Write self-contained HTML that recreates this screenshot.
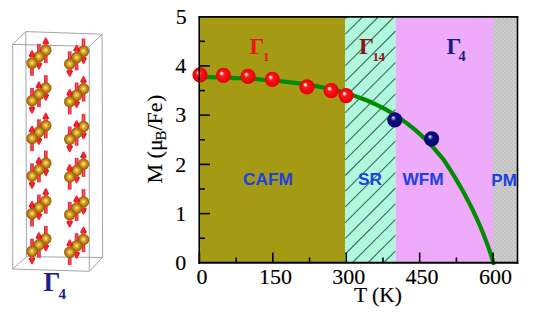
<!DOCTYPE html>
<html><head><meta charset="utf-8">
<style>
html,body{margin:0;padding:0;background:#fff;width:540px;height:313px;overflow:hidden}
svg{display:block}
text{font-family:"Liberation Serif",serif}
.sans{font-family:"Liberation Sans",sans-serif;font-weight:bold}
</style></head><body>
<svg width="540" height="313" viewBox="0 0 540 313">
<defs>
<radialGradient id="gold" cx="0.5" cy="0.5" r="0.52" fx="0.5" fy="0.47">
<stop offset="0" stop-color="#fff6b8"/>
<stop offset="0.2" stop-color="#f2c448"/>
<stop offset="0.55" stop-color="#c88c18"/>
<stop offset="1" stop-color="#865608"/>
</radialGradient>
<linearGradient id="shaft" x1="0" y1="0" x2="1" y2="0">
<stop offset="0" stop-color="#d81828"/>
<stop offset="0.5" stop-color="#f85464"/>
<stop offset="1" stop-color="#d01828"/>
</linearGradient>
<linearGradient id="head" x1="0" y1="0" x2="1" y2="0">
<stop offset="0" stop-color="#d00818"/>
<stop offset="0.5" stop-color="#ff2838"/>
<stop offset="1" stop-color="#c80818"/>
</linearGradient>
<radialGradient id="red" cx="0.5" cy="0.5" r="0.5" fx="0.36" fy="0.34">
<stop offset="0" stop-color="#ffffff"/>
<stop offset="0.13" stop-color="#ffc8c8"/>
<stop offset="0.32" stop-color="#ff1818"/>
<stop offset="1" stop-color="#e20000"/>
</radialGradient>
<radialGradient id="blue" cx="0.5" cy="0.5" r="0.5" fx="0.38" fy="0.34">
<stop offset="0" stop-color="#ffffff"/>
<stop offset="0.14" stop-color="#9090d0"/>
<stop offset="0.36" stop-color="#0c0c86"/>
<stop offset="1" stop-color="#080868"/>
</radialGradient>
<filter id="soft" x="-5%" y="-5%" width="110%" height="110%"><feGaussianBlur stdDeviation="0.3"/></filter>
<pattern id="chk" x="0" y="0" width="4" height="4" patternUnits="userSpaceOnUse"><rect width="4" height="4" fill="#cccccc"/><rect width="2" height="2" fill="#c2c2c2"/><rect x="2" y="2" width="2" height="2" fill="#c2c2c2"/></pattern>
</defs>

<!-- crystal box -->
<g stroke="#a4a4a4" stroke-width="1" fill="none">
<polyline points="12.7,269 12.7,44.4 89.3,46.4 89.3,271.3 12.7,269"/>
<polyline points="26.5,256.7 25.8,31.6 102.1,34.2 102.6,257.5 26.5,256.7"/>
<line x1="12.7" y1="44.4" x2="25.8" y2="31.6"/>
<line x1="89.3" y1="46.4" x2="102.1" y2="34.2"/>
<line x1="12.7" y1="269" x2="26.5" y2="256.7"/>
<line x1="89.3" y1="271.3" x2="102.6" y2="257.5"/>
</g>
<g filter="url(#soft)"><rect x="44.00" y="44.55" width="3.60" height="18.50" fill="url(#shaft)"/><path d="M45.20,37.55 L46.40,37.55 L49.20,43.15 L47.60,44.55 L44.00,44.55 L42.40,43.15 L45.20,37.55 Z" fill="url(#head)"/>
<circle cx="45.80" cy="50.30" r="5.70" fill="url(#gold)"/>
<rect x="37.10" y="43.95" width="3.60" height="18.50" fill="url(#shaft)"/><path d="M38.30,69.45 L39.50,69.45 L42.30,63.85 L40.70,62.45 L37.10,62.45 L35.50,63.85 L38.30,69.45 Z" fill="url(#head)"/>
<circle cx="38.90" cy="56.70" r="5.70" fill="url(#gold)"/>
<rect x="30.20" y="57.35" width="3.60" height="18.50" fill="url(#shaft)"/><path d="M31.40,50.35 L32.60,50.35 L35.40,55.95 L33.80,57.35 L30.20,57.35 L28.60,55.95 L31.40,50.35 Z" fill="url(#head)"/>
<circle cx="32.00" cy="63.10" r="5.70" fill="url(#gold)"/>
<rect x="81.70" y="38.45" width="3.60" height="18.50" fill="url(#shaft)"/><path d="M82.90,63.95 L84.10,63.95 L86.90,58.35 L85.30,56.95 L81.70,56.95 L80.10,58.35 L82.90,63.95 Z" fill="url(#head)"/>
<circle cx="83.50" cy="51.20" r="5.70" fill="url(#gold)"/>
<rect x="74.80" y="51.85" width="3.60" height="18.50" fill="url(#shaft)"/><path d="M76.00,44.85 L77.20,44.85 L80.00,50.45 L78.40,51.85 L74.80,51.85 L73.20,50.45 L76.00,44.85 Z" fill="url(#head)"/>
<circle cx="76.60" cy="57.60" r="5.70" fill="url(#gold)"/>
<rect x="67.90" y="51.25" width="3.60" height="18.50" fill="url(#shaft)"/><path d="M69.10,76.75 L70.30,76.75 L73.10,71.15 L71.50,69.75 L67.90,69.75 L66.30,71.15 L69.10,76.75 Z" fill="url(#head)"/>
<circle cx="69.70" cy="64.00" r="5.70" fill="url(#gold)"/>
<rect x="44.00" y="75.21" width="3.60" height="18.50" fill="url(#shaft)"/><path d="M45.20,100.71 L46.40,100.71 L49.20,95.11 L47.60,93.71 L44.00,93.71 L42.40,95.11 L45.20,100.71 Z" fill="url(#head)"/>
<circle cx="45.80" cy="87.96" r="5.70" fill="url(#gold)"/>
<rect x="37.10" y="88.61" width="3.60" height="18.50" fill="url(#shaft)"/><path d="M38.30,81.61 L39.50,81.61 L42.30,87.21 L40.70,88.61 L37.10,88.61 L35.50,87.21 L38.30,81.61 Z" fill="url(#head)"/>
<circle cx="38.90" cy="94.36" r="5.70" fill="url(#gold)"/>
<rect x="30.20" y="88.01" width="3.60" height="18.50" fill="url(#shaft)"/><path d="M31.40,113.51 L32.60,113.51 L35.40,107.91 L33.80,106.51 L30.20,106.51 L28.60,107.91 L31.40,113.51 Z" fill="url(#head)"/>
<circle cx="32.00" cy="100.76" r="5.70" fill="url(#gold)"/>
<rect x="81.70" y="83.11" width="3.60" height="18.50" fill="url(#shaft)"/><path d="M82.90,76.11 L84.10,76.11 L86.90,81.71 L85.30,83.11 L81.70,83.11 L80.10,81.71 L82.90,76.11 Z" fill="url(#head)"/>
<circle cx="83.50" cy="88.86" r="5.70" fill="url(#gold)"/>
<rect x="74.80" y="82.51" width="3.60" height="18.50" fill="url(#shaft)"/><path d="M76.00,108.01 L77.20,108.01 L80.00,102.41 L78.40,101.01 L74.80,101.01 L73.20,102.41 L76.00,108.01 Z" fill="url(#head)"/>
<circle cx="76.60" cy="95.26" r="5.70" fill="url(#gold)"/>
<rect x="67.90" y="95.91" width="3.60" height="18.50" fill="url(#shaft)"/><path d="M69.10,88.91 L70.30,88.91 L73.10,94.51 L71.50,95.91 L67.90,95.91 L66.30,94.51 L69.10,88.91 Z" fill="url(#head)"/>
<circle cx="69.70" cy="101.66" r="5.70" fill="url(#gold)"/>
<rect x="44.00" y="119.87" width="3.60" height="18.50" fill="url(#shaft)"/><path d="M45.20,112.87 L46.40,112.87 L49.20,118.47 L47.60,119.87 L44.00,119.87 L42.40,118.47 L45.20,112.87 Z" fill="url(#head)"/>
<circle cx="45.80" cy="125.62" r="5.70" fill="url(#gold)"/>
<rect x="37.10" y="119.27" width="3.60" height="18.50" fill="url(#shaft)"/><path d="M38.30,144.77 L39.50,144.77 L42.30,139.17 L40.70,137.77 L37.10,137.77 L35.50,139.17 L38.30,144.77 Z" fill="url(#head)"/>
<circle cx="38.90" cy="132.02" r="5.70" fill="url(#gold)"/>
<rect x="30.20" y="132.67" width="3.60" height="18.50" fill="url(#shaft)"/><path d="M31.40,125.67 L32.60,125.67 L35.40,131.27 L33.80,132.67 L30.20,132.67 L28.60,131.27 L31.40,125.67 Z" fill="url(#head)"/>
<circle cx="32.00" cy="138.42" r="5.70" fill="url(#gold)"/>
<rect x="81.70" y="113.77" width="3.60" height="18.50" fill="url(#shaft)"/><path d="M82.90,139.27 L84.10,139.27 L86.90,133.67 L85.30,132.27 L81.70,132.27 L80.10,133.67 L82.90,139.27 Z" fill="url(#head)"/>
<circle cx="83.50" cy="126.52" r="5.70" fill="url(#gold)"/>
<rect x="74.80" y="127.17" width="3.60" height="18.50" fill="url(#shaft)"/><path d="M76.00,120.17 L77.20,120.17 L80.00,125.77 L78.40,127.17 L74.80,127.17 L73.20,125.77 L76.00,120.17 Z" fill="url(#head)"/>
<circle cx="76.60" cy="132.92" r="5.70" fill="url(#gold)"/>
<rect x="67.90" y="126.57" width="3.60" height="18.50" fill="url(#shaft)"/><path d="M69.10,152.07 L70.30,152.07 L73.10,146.47 L71.50,145.07 L67.90,145.07 L66.30,146.47 L69.10,152.07 Z" fill="url(#head)"/>
<circle cx="69.70" cy="139.32" r="5.70" fill="url(#gold)"/>
<rect x="44.00" y="150.53" width="3.60" height="18.50" fill="url(#shaft)"/><path d="M45.20,176.03 L46.40,176.03 L49.20,170.43 L47.60,169.03 L44.00,169.03 L42.40,170.43 L45.20,176.03 Z" fill="url(#head)"/>
<circle cx="45.80" cy="163.28" r="5.70" fill="url(#gold)"/>
<rect x="37.10" y="163.93" width="3.60" height="18.50" fill="url(#shaft)"/><path d="M38.30,156.93 L39.50,156.93 L42.30,162.53 L40.70,163.93 L37.10,163.93 L35.50,162.53 L38.30,156.93 Z" fill="url(#head)"/>
<circle cx="38.90" cy="169.68" r="5.70" fill="url(#gold)"/>
<rect x="30.20" y="163.33" width="3.60" height="18.50" fill="url(#shaft)"/><path d="M31.40,188.83 L32.60,188.83 L35.40,183.23 L33.80,181.83 L30.20,181.83 L28.60,183.23 L31.40,188.83 Z" fill="url(#head)"/>
<circle cx="32.00" cy="176.08" r="5.70" fill="url(#gold)"/>
<rect x="81.70" y="158.43" width="3.60" height="18.50" fill="url(#shaft)"/><path d="M82.90,151.43 L84.10,151.43 L86.90,157.03 L85.30,158.43 L81.70,158.43 L80.10,157.03 L82.90,151.43 Z" fill="url(#head)"/>
<circle cx="83.50" cy="164.18" r="5.70" fill="url(#gold)"/>
<rect x="74.80" y="157.83" width="3.60" height="18.50" fill="url(#shaft)"/><path d="M76.00,183.33 L77.20,183.33 L80.00,177.73 L78.40,176.33 L74.80,176.33 L73.20,177.73 L76.00,183.33 Z" fill="url(#head)"/>
<circle cx="76.60" cy="170.58" r="5.70" fill="url(#gold)"/>
<rect x="67.90" y="171.23" width="3.60" height="18.50" fill="url(#shaft)"/><path d="M69.10,164.23 L70.30,164.23 L73.10,169.83 L71.50,171.23 L67.90,171.23 L66.30,169.83 L69.10,164.23 Z" fill="url(#head)"/>
<circle cx="69.70" cy="176.98" r="5.70" fill="url(#gold)"/>
<rect x="44.00" y="195.19" width="3.60" height="18.50" fill="url(#shaft)"/><path d="M45.20,188.19 L46.40,188.19 L49.20,193.79 L47.60,195.19 L44.00,195.19 L42.40,193.79 L45.20,188.19 Z" fill="url(#head)"/>
<circle cx="45.80" cy="200.94" r="5.70" fill="url(#gold)"/>
<rect x="37.10" y="194.59" width="3.60" height="18.50" fill="url(#shaft)"/><path d="M38.30,220.09 L39.50,220.09 L42.30,214.49 L40.70,213.09 L37.10,213.09 L35.50,214.49 L38.30,220.09 Z" fill="url(#head)"/>
<circle cx="38.90" cy="207.34" r="5.70" fill="url(#gold)"/>
<rect x="30.20" y="207.99" width="3.60" height="18.50" fill="url(#shaft)"/><path d="M31.40,200.99 L32.60,200.99 L35.40,206.59 L33.80,207.99 L30.20,207.99 L28.60,206.59 L31.40,200.99 Z" fill="url(#head)"/>
<circle cx="32.00" cy="213.74" r="5.70" fill="url(#gold)"/>
<rect x="81.70" y="189.09" width="3.60" height="18.50" fill="url(#shaft)"/><path d="M82.90,214.59 L84.10,214.59 L86.90,208.99 L85.30,207.59 L81.70,207.59 L80.10,208.99 L82.90,214.59 Z" fill="url(#head)"/>
<circle cx="83.50" cy="201.84" r="5.70" fill="url(#gold)"/>
<rect x="74.80" y="202.49" width="3.60" height="18.50" fill="url(#shaft)"/><path d="M76.00,195.49 L77.20,195.49 L80.00,201.09 L78.40,202.49 L74.80,202.49 L73.20,201.09 L76.00,195.49 Z" fill="url(#head)"/>
<circle cx="76.60" cy="208.24" r="5.70" fill="url(#gold)"/>
<rect x="67.90" y="201.89" width="3.60" height="18.50" fill="url(#shaft)"/><path d="M69.10,227.39 L70.30,227.39 L73.10,221.79 L71.50,220.39 L67.90,220.39 L66.30,221.79 L69.10,227.39 Z" fill="url(#head)"/>
<circle cx="69.70" cy="214.64" r="5.70" fill="url(#gold)"/>
<rect x="44.00" y="225.85" width="3.60" height="18.50" fill="url(#shaft)"/><path d="M45.20,251.35 L46.40,251.35 L49.20,245.75 L47.60,244.35 L44.00,244.35 L42.40,245.75 L45.20,251.35 Z" fill="url(#head)"/>
<circle cx="45.80" cy="238.60" r="5.70" fill="url(#gold)"/>
<rect x="37.10" y="239.25" width="3.60" height="18.50" fill="url(#shaft)"/><path d="M38.30,232.25 L39.50,232.25 L42.30,237.85 L40.70,239.25 L37.10,239.25 L35.50,237.85 L38.30,232.25 Z" fill="url(#head)"/>
<circle cx="38.90" cy="245.00" r="5.70" fill="url(#gold)"/>
<rect x="30.20" y="238.65" width="3.60" height="18.50" fill="url(#shaft)"/><path d="M31.40,264.15 L32.60,264.15 L35.40,258.55 L33.80,257.15 L30.20,257.15 L28.60,258.55 L31.40,264.15 Z" fill="url(#head)"/>
<circle cx="32.00" cy="251.40" r="5.70" fill="url(#gold)"/>
<rect x="81.70" y="233.75" width="3.60" height="18.50" fill="url(#shaft)"/><path d="M82.90,226.75 L84.10,226.75 L86.90,232.35 L85.30,233.75 L81.70,233.75 L80.10,232.35 L82.90,226.75 Z" fill="url(#head)"/>
<circle cx="83.50" cy="239.50" r="5.70" fill="url(#gold)"/>
<rect x="74.80" y="233.15" width="3.60" height="18.50" fill="url(#shaft)"/><path d="M76.00,258.65 L77.20,258.65 L80.00,253.05 L78.40,251.65 L74.80,251.65 L73.20,253.05 L76.00,258.65 Z" fill="url(#head)"/>
<circle cx="76.60" cy="245.90" r="5.70" fill="url(#gold)"/>
<rect x="67.90" y="246.55" width="3.60" height="18.50" fill="url(#shaft)"/><path d="M69.10,239.55 L70.30,239.55 L73.10,245.15 L71.50,246.55 L67.90,246.55 L66.30,245.15 L69.10,239.55 Z" fill="url(#head)"/>
<circle cx="69.70" cy="252.30" r="5.70" fill="url(#gold)"/></g>
<text x="43.5" y="291" font-size="26.5" font-weight="bold" fill="#1c2088">Γ</text>
<text x="58.5" y="299" font-size="15" font-weight="bold" fill="#1c2088">4</text>

<!-- chart regions -->
<rect x="199" y="17" width="146.3" height="246" fill="#a49a14"/>
<rect x="345.3" y="17" width="50.3" height="246" fill="#aff8de"/>
<g stroke="#447062" stroke-width="1.15"><line x1="345.30" y1="18.50" x2="346.80" y2="17.00"/>
<line x1="345.30" y1="34.20" x2="362.50" y2="17.00"/>
<line x1="345.30" y1="49.90" x2="378.20" y2="17.00"/>
<line x1="345.30" y1="65.60" x2="393.90" y2="17.00"/>
<line x1="345.30" y1="81.30" x2="395.60" y2="31.00"/>
<line x1="345.30" y1="97.00" x2="395.60" y2="46.70"/>
<line x1="345.30" y1="112.70" x2="395.60" y2="62.40"/>
<line x1="345.30" y1="128.40" x2="395.60" y2="78.10"/>
<line x1="345.30" y1="144.10" x2="395.60" y2="93.80"/>
<line x1="345.30" y1="159.80" x2="395.60" y2="109.50"/>
<line x1="345.30" y1="175.50" x2="395.60" y2="125.20"/>
<line x1="345.30" y1="191.20" x2="395.60" y2="140.90"/>
<line x1="345.30" y1="206.90" x2="395.60" y2="156.60"/>
<line x1="345.30" y1="222.60" x2="395.60" y2="172.30"/>
<line x1="345.30" y1="238.30" x2="395.60" y2="188.00"/>
<line x1="345.30" y1="254.00" x2="395.60" y2="203.70"/>
<line x1="352.00" y1="263.00" x2="395.60" y2="219.40"/>
<line x1="367.70" y1="263.00" x2="395.60" y2="235.10"/>
<line x1="383.40" y1="263.00" x2="395.60" y2="250.80"/></g>
<rect x="395.6" y="17" width="97.4" height="246" fill="#eeabfb"/>
<rect x="493" y="17" width="25" height="246" fill="url(#chk)"/>

<!-- labels in regions -->
<text x="249.5" y="54" font-size="23.5" font-weight="bold" fill="#f01414">Γ</text>
<text x="262.9" y="61.3" font-size="13.2" font-weight="bold" fill="#f01414">1</text>
<text x="359" y="54.2" font-size="23.5" font-weight="bold" fill="#8a1414">Γ</text>
<text x="372.6" y="60.6" font-size="13" letter-spacing="-0.6" font-weight="bold" fill="#8a1414">14</text>
<text x="446.5" y="54" font-size="23.5" font-weight="bold" fill="#1c1c80">Γ</text>
<text x="458.4" y="61.2" font-size="14.3" font-weight="bold" fill="#1c1c80">4</text>

<g fill="#2040e0">
<text class="sans" x="243" y="185.3" font-size="17.3">CAFM</text>
<text class="sans" x="358" y="185.3" font-size="17.3">SR</text>
<text class="sans" x="402.5" y="185.3" font-size="17.3">WFM</text>
<text class="sans" x="491.3" y="186.2" font-size="17">PM</text>
</g>

<!-- curve -->
<path d="M199.00,76.93 L203.08,76.99 L207.17,77.07 L211.25,77.17 L215.34,77.28 L219.42,77.41 L223.51,77.55 L227.59,77.71 L231.68,77.88 L235.76,78.06 L239.85,78.26 L243.93,78.47 L248.02,78.70 L252.10,78.95 L256.19,79.21 L260.27,79.49 L264.36,79.80 L268.44,80.12 L272.53,80.47 L276.61,80.83 L280.69,81.23 L284.78,81.65 L288.86,82.11 L292.95,82.59 L297.03,83.11 L301.12,83.67 L305.20,84.26 L309.29,84.90 L313.37,85.58 L317.46,86.31 L321.54,87.10 L325.63,87.94 L329.71,88.84 L333.80,89.80 L337.88,90.83 L341.97,91.93 L346.05,93.10 L350.14,94.36 L354.22,95.70 L358.31,97.13 L362.39,98.66 L366.47,100.29 L370.56,102.03 L374.64,103.88 L378.73,105.85 L382.81,107.95 L386.90,110.18 L390.98,112.55 L395.07,115.07 L399.15,117.75 L403.24,120.59 L407.32,123.61 L411.41,126.81 L415.49,130.20 L419.58,133.81 L423.66,137.62 L427.75,141.68 L431.83,145.97 L435.92,150.53 L440.00,155.36 L443.20,159.08 L445.67,162.80 L448.10,166.51 L450.47,170.23 L452.80,173.95 L455.07,177.67 L457.29,181.39 L459.47,185.11 L461.59,188.83 L463.66,192.55 L465.69,196.26 L467.66,199.98 L469.58,203.70 L471.46,207.42 L473.28,211.14 L475.05,214.86 L476.77,218.58 L478.45,222.29 L480.07,226.01 L481.64,229.73 L483.16,233.45 L484.63,237.17 L486.05,240.89 L487.42,244.61 L488.75,248.33 L490.02,252.04 L491.24,255.76 L492.41,259.48 L493.53,263.20" fill="none" stroke="#008c00" stroke-width="4.2" stroke-linecap="round"/>
<circle cx="200.0" cy="74.8" r="7.6" fill="url(#red)"/>
<circle cx="223.4" cy="75.4" r="7.6" fill="url(#red)"/>
<circle cx="248.0" cy="76.4" r="7.6" fill="url(#red)"/>
<circle cx="272.3" cy="79.3" r="7.6" fill="url(#red)"/>
<circle cx="307.0" cy="86.8" r="7.6" fill="url(#red)"/>
<circle cx="331.2" cy="90.7" r="7.6" fill="url(#red)"/>
<circle cx="346.1" cy="95.6" r="7.6" fill="url(#red)"/>
<circle cx="394.8" cy="119.8" r="7.6" fill="url(#blue)"/>
<circle cx="431.6" cy="138.8" r="7.6" fill="url(#blue)"/>

<!-- frame & ticks -->
<g stroke="#000" stroke-width="1.9" fill="none">
<line x1="198.5" y1="16.9" x2="518.3" y2="16.9"/>
<line x1="198.5" y1="262.7" x2="518.3" y2="262.7"/>
</g>
<g stroke="#000" stroke-width="1.6" fill="none">
<line x1="199.2" y1="16" x2="199.2" y2="264"/>
<line x1="517.5" y1="16" x2="517.5" y2="264"/>
</g>
<g stroke="#000" stroke-width="1.6" fill="none">
<line x1="199.40" y1="263" x2="199.40" y2="252.50"/>
<line x1="236.11" y1="263" x2="236.11" y2="257.50"/>
<line x1="272.82" y1="263" x2="272.82" y2="252.50"/>
<line x1="309.54" y1="263" x2="309.54" y2="257.50"/>
<line x1="346.25" y1="263" x2="346.25" y2="252.50"/>
<line x1="382.96" y1="263" x2="382.96" y2="257.50"/>
<line x1="419.68" y1="263" x2="419.68" y2="252.50"/>
<line x1="456.39" y1="263" x2="456.39" y2="257.50"/>
<line x1="493.10" y1="263" x2="493.10" y2="252.50"/>
<line x1="199" y1="238.24" x2="205.00" y2="238.24"/>
<line x1="199" y1="213.62" x2="210.00" y2="213.62"/>
<line x1="199" y1="189.01" x2="205.00" y2="189.01"/>
<line x1="199" y1="164.39" x2="210.00" y2="164.39"/>
<line x1="199" y1="139.78" x2="205.00" y2="139.78"/>
<line x1="199" y1="115.16" x2="210.00" y2="115.16"/>
<line x1="199" y1="90.55" x2="205.00" y2="90.55"/>
<line x1="199" y1="65.93" x2="210.00" y2="65.93"/>
<line x1="199" y1="41.32" x2="205.00" y2="41.32"/>
</g>

<!-- tick labels -->
<g font-size="22" fill="#000" stroke="#000" stroke-width="0.15">
<text x="186.8" y="24" text-anchor="end">5</text>
<text x="186.3" y="73.2" text-anchor="end">4</text>
<text x="186.3" y="122.4" text-anchor="end">3</text>
<text x="186.3" y="171.6" text-anchor="end">2</text>
<text x="186.3" y="220.8" text-anchor="end">1</text>
<text x="186.3" y="270" text-anchor="end">0</text>
<text x="202" y="284.3" text-anchor="middle">0</text>
<text x="275.4" y="284.3" text-anchor="middle">150</text>
<text x="348.8" y="284.3" text-anchor="middle">300</text>
<text x="422.1" y="284.3" text-anchor="middle">450</text>
<text x="495.4" y="284.3" text-anchor="middle">600</text>
</g>
<text x="354" y="302" font-size="21.5" stroke="#000" stroke-width="0.15">T (K)</text>
<text transform="translate(162,183.5) rotate(-90)" font-size="22" stroke="#000" stroke-width="0.15">M (μ<tspan font-size="15" dy="4" dx="-1.2">B</tspan><tspan dy="-4">/Fe</tspan><tspan dx="0.4">)</tspan></text>
</svg>
</body></html>
